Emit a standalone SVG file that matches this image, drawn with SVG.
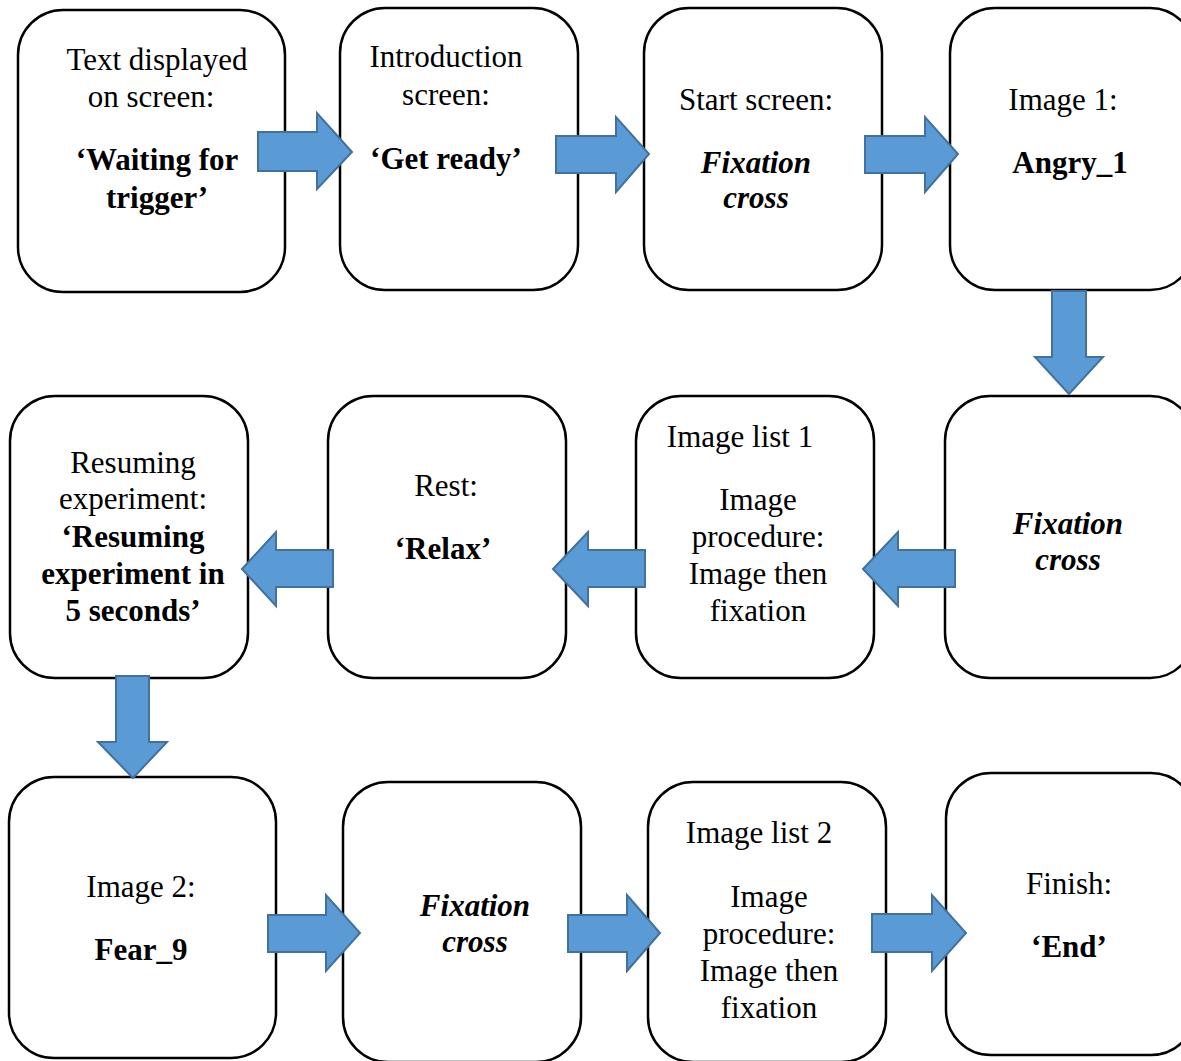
<svg xmlns="http://www.w3.org/2000/svg" width="1181" height="1061" viewBox="0 0 1181 1061">
<style>
.box{fill:#fff;stroke:#000;stroke-width:2.5}
.arr{fill:#5B9BD5;stroke:#41719C;stroke-width:2;stroke-linejoin:miter}
text{font-family:"Liberation Serif","Times New Roman",serif;font-size:31px;fill:#000;text-anchor:middle}
.b{font-weight:bold}
.bi{font-weight:bold;font-style:italic}
</style>
<rect width="1181" height="1061" fill="#fff"/>
<g id="node1"><rect class="box" x="18" y="10" width="267" height="282" rx="45"/>
<text x="157" y="70">Text displayed</text><text x="151" y="107">on screen:</text>
<text class="b" x="157" y="170">‘Waiting for</text><text class="b" x="157" y="208">trigger’</text></g>
<g id="node2"><rect class="box" x="340" y="8" width="238" height="282" rx="45"/>
<text x="446" y="67">Introduction</text><text x="446" y="105">screen:</text>
<text class="b" x="446" y="169">‘Get ready’</text></g>
<g id="node3"><rect class="box" x="644" y="8" width="238" height="282" rx="45"/>
<text x="756" y="110">Start screen:</text>
<text class="bi" x="756" y="173">Fixation</text><text class="bi" x="756" y="208">cross</text></g>
<g id="node4"><rect class="box" x="950" y="8" width="245" height="282" rx="45"/>
<text x="1063" y="110">Image 1:</text>
<text class="b" x="1070" y="173">Angry_1</text></g>
<g id="node5"><rect class="box" x="945" y="396" width="250" height="282" rx="45"/>
<text class="bi" x="1068" y="534">Fixation</text><text class="bi" x="1068" y="570">cross</text></g>
<g id="node6"><rect class="box" x="636" y="396" width="238" height="282" rx="45"/>
<text x="740" y="447">Image list 1</text>
<text x="758" y="510">Image</text><text x="758" y="547">procedure:</text>
<text x="758" y="584">Image then</text><text x="758" y="621">fixation</text></g>
<g id="node7"><rect class="box" x="328" y="396" width="238" height="282" rx="45"/>
<text x="446" y="496">Rest:</text>
<text class="b" x="443" y="559">‘Relax’</text></g>
<g id="node8"><rect class="box" x="10" y="396" width="238" height="282" rx="45"/>
<text x="133" y="473">Resuming</text><text x="133" y="509">experiment:</text>
<text class="b" x="133" y="547">‘Resuming</text><text class="b" x="133" y="584">experiment in</text>
<text class="b" x="133" y="621">5 seconds’</text></g>
<g id="node9"><rect class="box" x="9" y="777" width="267" height="281" rx="45"/>
<text x="141" y="897">Image 2:</text>
<text class="b" x="141" y="960">Fear_9</text></g>
<g id="node10"><rect class="box" x="343" y="782" width="238" height="280" rx="45"/>
<text class="bi" x="475" y="916">Fixation</text><text class="bi" x="475" y="952">cross</text></g>
<g id="node11"><rect class="box" x="648" y="782" width="238" height="280" rx="45"/>
<text x="759" y="843">Image list 2</text>
<text x="769" y="907">Image</text><text x="769" y="944">procedure:</text>
<text x="769" y="981">Image then</text><text x="769" y="1018">fixation</text></g>
<g id="node12"><rect class="box" x="946" y="773" width="250" height="282" rx="45"/>
<text x="1069" y="894">Finish:</text>
<text class="b" x="1069" y="957">‘End’</text></g>
<g id="connectors">
<polygon class="arr" points="258,132 317,132 317,113 352,152 317,189 317,171 258,171"/>
<polygon class="arr" points="556,136 616,136 616,117 649,154 616,192 616,173 556,173"/>
<polygon class="arr" points="865,136 925,136 925,117 958,154 925,192 925,173 865,173"/>
<polygon class="arr" points="1052,291 1086,291 1086,357 1103,357 1069,394 1035,357 1052,357"/>
<polygon class="arr" points="955,550 898,550 898,532 863,569 898,606 898,587 955,587"/>
<polygon class="arr" points="645,550 588,550 588,532 553,569 588,606 588,587 645,587"/>
<polygon class="arr" points="333,550 276,550 276,532 242,569 276,606 276,587 333,587"/>
<polygon class="arr" points="116,676 149,676 149,742 167,742 133,778 98,742 116,742"/>
<polygon class="arr" points="268,915 326,915 326,895 360,933 326,971 326,952 268,952"/>
<polygon class="arr" points="568,915 627,915 627,895 660,933 627,971 627,952 568,952"/>
<polygon class="arr" points="872,914 932,914 932,895 966,933 932,971 932,952 872,952"/>
</g>
</svg>
